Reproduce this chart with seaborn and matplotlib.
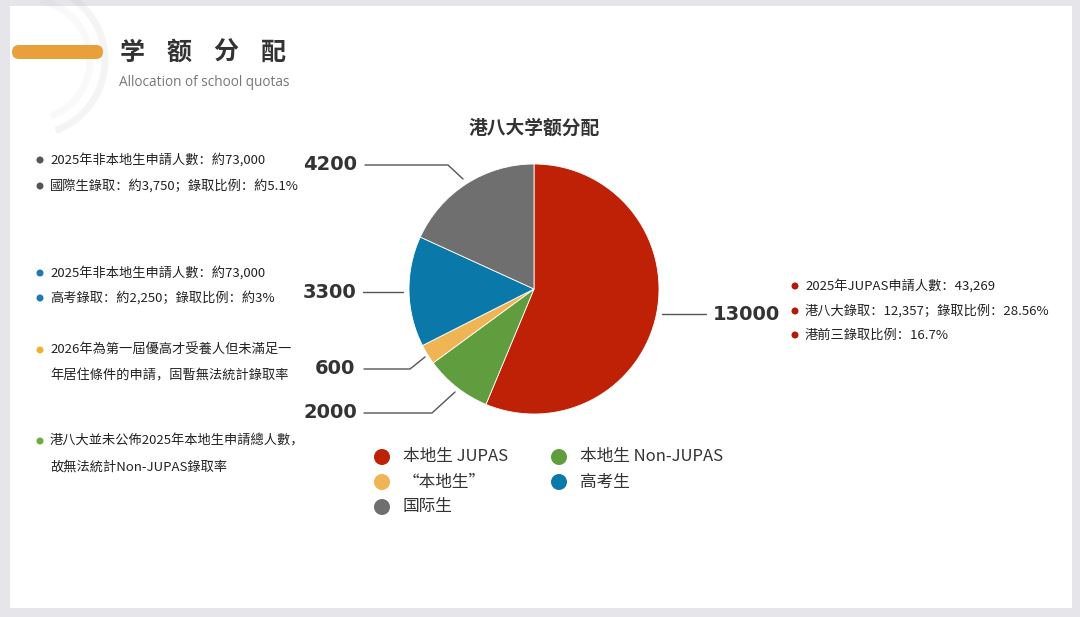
import matplotlib
matplotlib.use("Agg")
import matplotlib.pyplot as plt
import seaborn as sns
from matplotlib.patches import FancyBboxPatch, Rectangle, Circle, Arc

sns.set_theme(style="white")
plt.rcParams['font.family'] = ['Noto Sans CJK SC', 'DejaVu Sans']

categories = ["本地生 JUPAS", "本地生 Non-JUPAS", "“本地生”", "高考生", "国际生"]
values = [13000, 2000, 600, 3300, 4200]
value_labels = ["13000", "2000", "600", "3300", "4200"]
colors = ["#BE2106", "#5F9D3F", "#EFB453", "#0A79A9", "#6F6F6F"]

W, H = 1080, 617
fig = plt.figure(figsize=(W/100, H/100), dpi=100)
fig.patch.set_facecolor("#E6E6EA")

bg = fig.add_axes([0, 0, 1, 1])
bg.set_xlim(0, W); bg.set_ylim(H, 0); bg.axis("off")
bg.add_patch(Rectangle((10, 6), 1062, 602, facecolor="white", edgecolor="none"))
for r, a in [(75, 0.10), (60, 0.06)]:
    bg.add_patch(Arc((30, 60), 2*r, 2*r, theta1=-80, theta2=70, color="#999999", alpha=a, lw=5))

ax = fig.add_axes([409/W, 1-414/H, 250/W, 250/H])
ax.pie(values, colors=colors, startangle=90, counterclock=False,
       wedgeprops=dict(edgecolor="white", linewidth=0.6))
ax.set_xlim(-1, 1); ax.set_ylim(-1, 1)

ov = fig.add_axes([0, 0, 1, 1])
ov.set_xlim(0, W); ov.set_ylim(H, 0); ov.axis("off"); ov.patch.set_alpha(0)

ov.add_patch(FancyBboxPatch((12, 45), 91, 14, boxstyle="round,pad=0,rounding_size=7",
                            facecolor="#E9A03A", edgecolor="none"))
for k, ch in enumerate("学额分配"):
    ov.text(132 + k*47, 53, ch, fontsize=18, fontweight="bold", color="#333333",
            va="center", ha="center")
ov.text(119, 83, "Allocation of school quotas", fontsize=9.8, color="#777777", va="center",
        family=["Open Sans", "DejaVu Sans"])

ov.text(534, 128, "港八大学额分配", fontsize=13.5, fontweight="bold", color="#333333",
        ha="center", va="center")

leaders = {
    0: ([662, 706], [314, 314], 746, 314),
    1: ([455, 432, 364], [392, 413, 413], 330, 413),
    2: ([425, 410, 364], [357, 369, 369], 335, 369),
    3: ([403, 363], [292, 292], 330, 292),
    4: ([463, 448, 365], [179, 165, 165], 330, 165),
}
for i, (xs, ys, tx, ty) in leaders.items():
    ov.plot(xs, ys, color="#555555", lw=1)
    ov.text(tx, ty, value_labels[i], fontsize=14, fontweight="bold", color="#333333",
            ha="center", va="center", family=["DejaVu Sans"])

leg_pos = [(382, 457), (559, 457), (382, 482), (559, 482), (382, 507)]
for (x, y), c, lab in zip(leg_pos, colors, categories):
    ov.add_patch(Circle((x, y), 8, facecolor=c, edgecolor="none"))
    ov.text(x + 21, y, lab, fontsize=12, color="#333333", va="center")

notes = [
    (40, 160, "#555555", "2025年非本地生申請人數：約73,000"),
    (40, 186, "#555555", "國際生錄取：約3,750；錄取比例：約5.1%"),
    (40, 273, "#1F78B4", "2025年非本地生申請人數：約73,000"),
    (40, 298, "#1F78B4", "高考錄取：約2,250；錄取比例：約3%"),
    (40, 350, "#F2B22C", "2026年為第一屆優高才受養人但未滿足一"),
    (40, 441, "#6AAF3D", "港八大並未公佈2025年本地生申請總人數，"),
    (795, 286, "#B21A0A", "2025年JUPAS申請人數：43,269"),
    (795, 311, "#B21A0A", "港八大錄取：12,357；錄取比例：28.56%"),
    (795, 335, "#B21A0A", "港前三錄取比例：16.7%"),
]
for x, y, c, t in notes:
    ov.add_patch(Circle((x, y), 3.5, facecolor=c, edgecolor="none"))
    ov.text(x + 10, y, t, fontsize=9.5, color="#222222", va="center")
ov.text(50, 376, "年居住條件的申請，固暫無法統計錄取率", fontsize=9.5, color="#222222", va="center")
ov.text(50, 467, "故無法統計Non-JUPAS錄取率", fontsize=9.5, color="#222222", va="center")

fig.savefig("out.png", dpi=100)
